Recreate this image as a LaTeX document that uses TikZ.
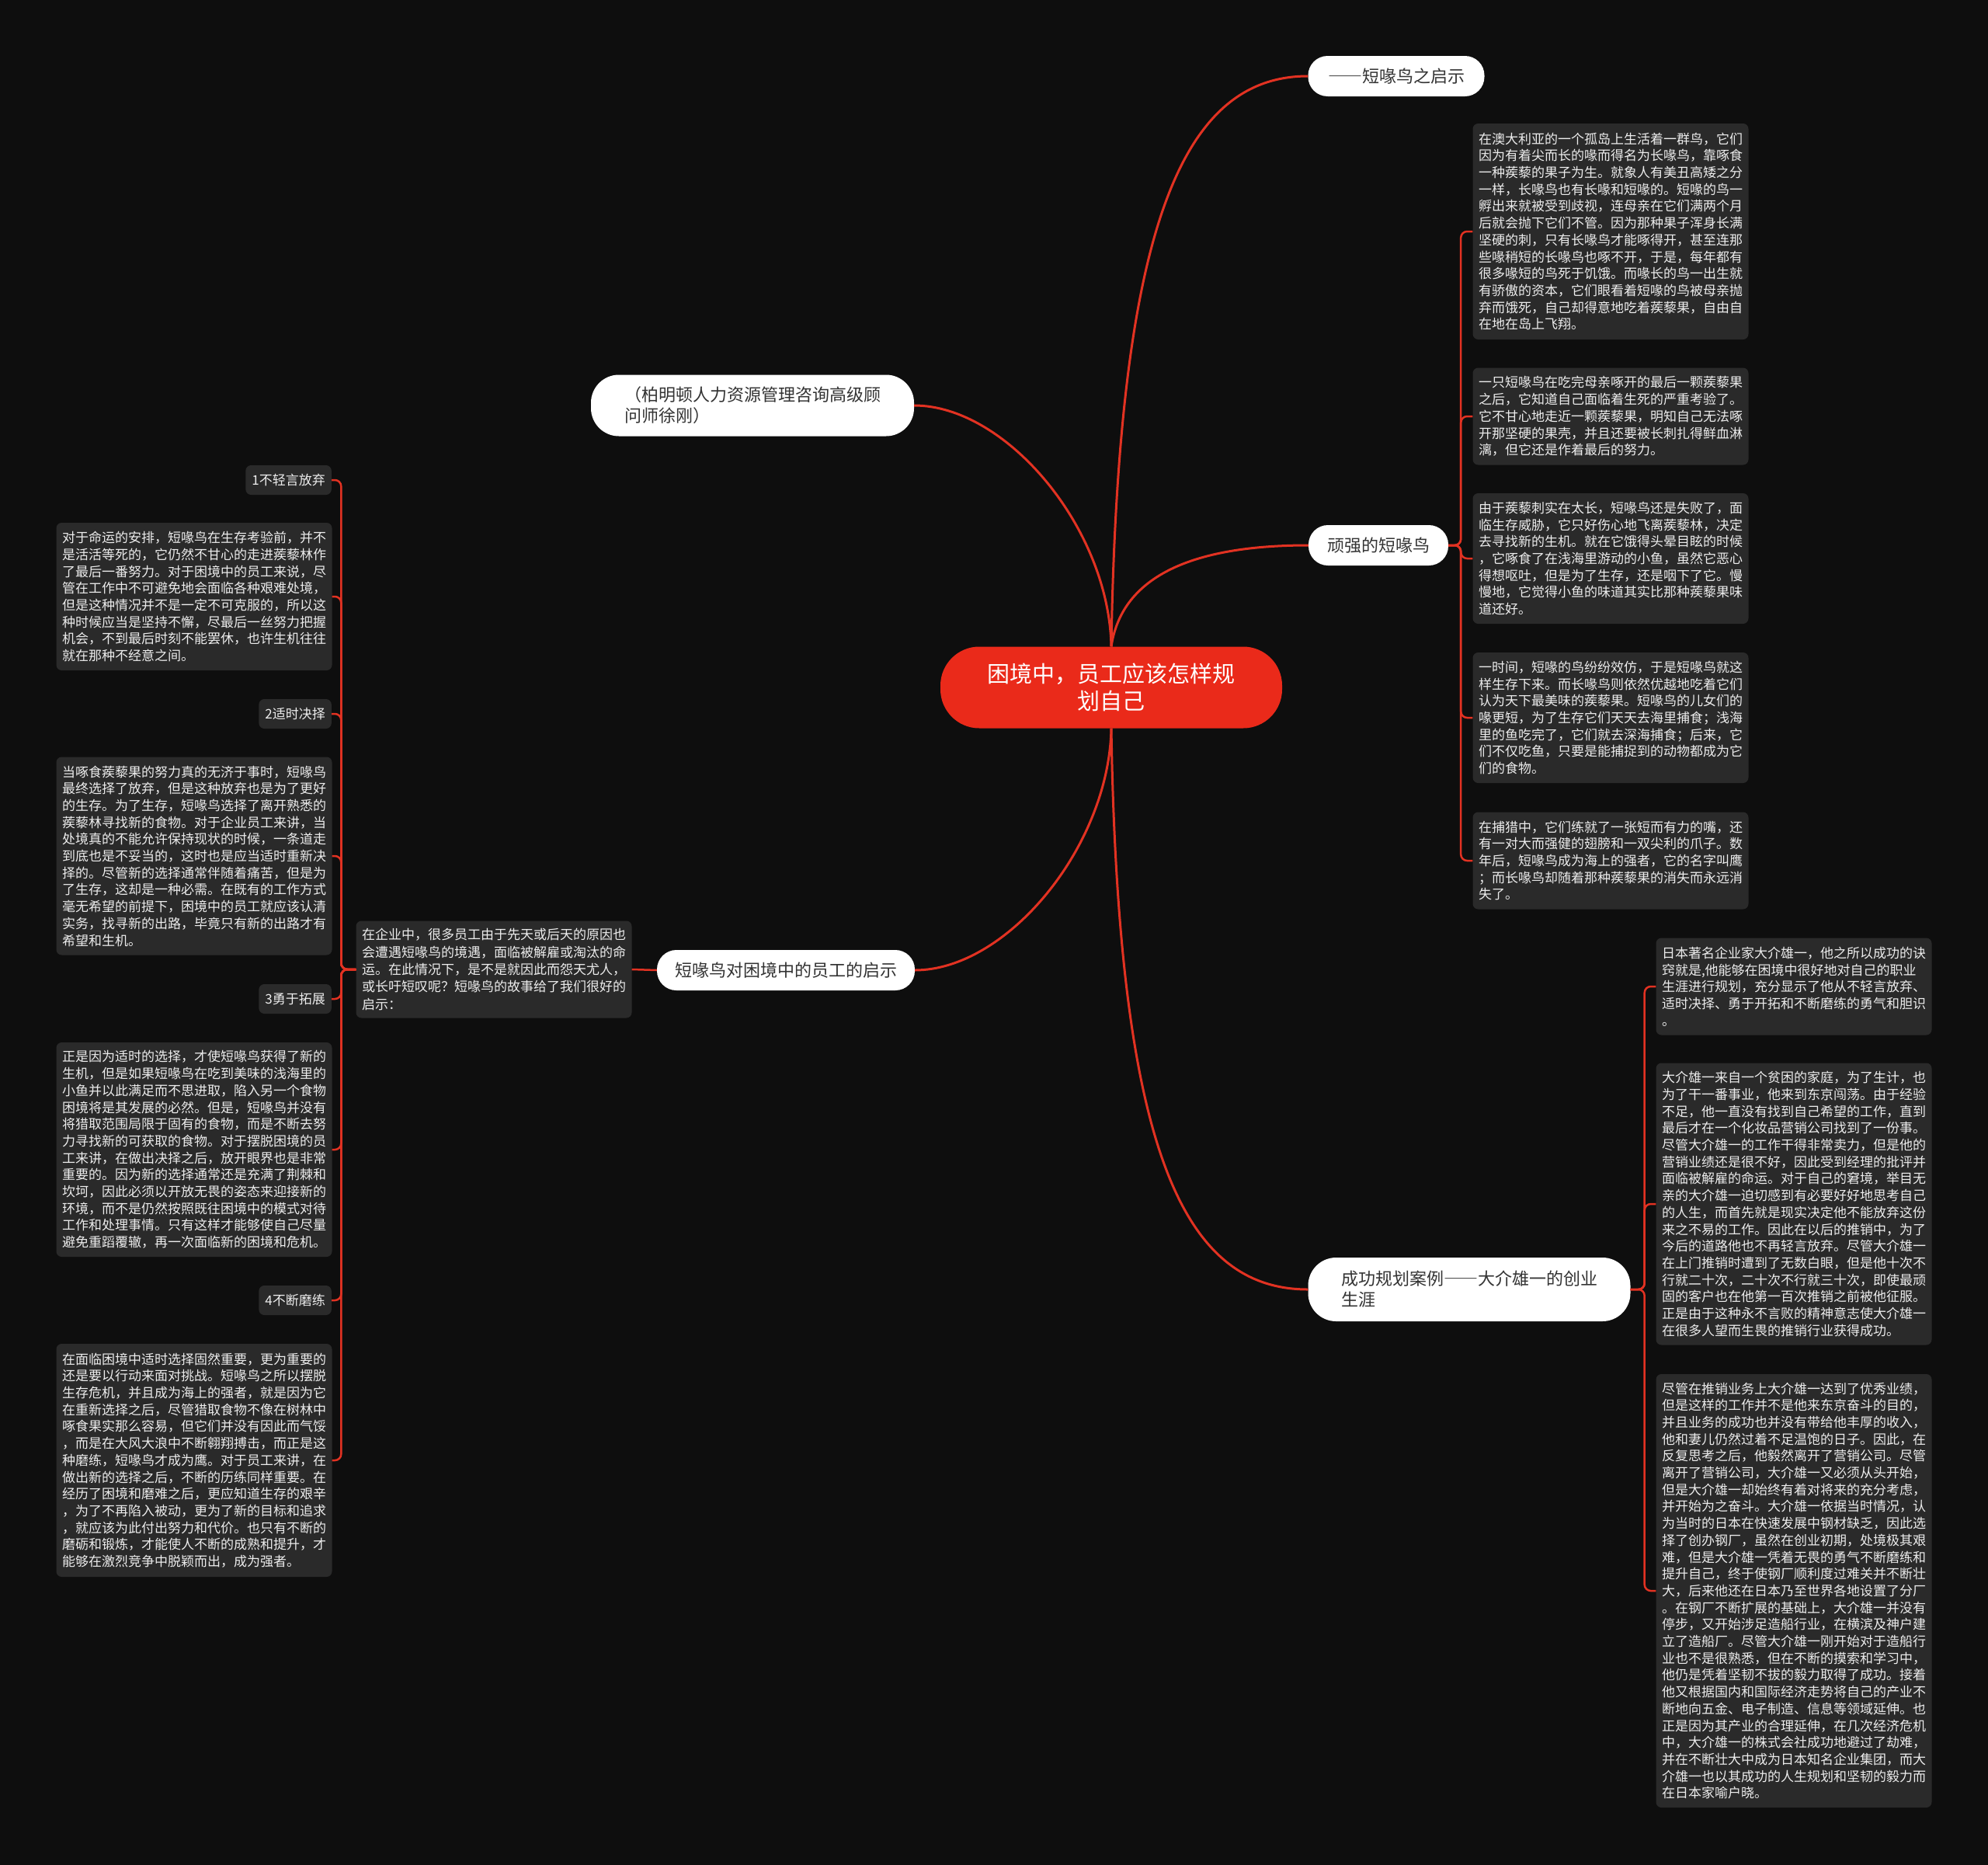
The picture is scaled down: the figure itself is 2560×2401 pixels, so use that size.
\documentclass[tikz,border=0pt]{standalone}
\usepackage{fontspec}
\usepackage{xcolor}
\usepackage{tikz}
\newfontfamily\cjk{Noto Sans CJK SC}
\newcommand\wdash{{\addfontfeatures{RawFeature=+fwid}——}}
\definecolor{bgdark}{RGB}{14,14,14}
\definecolor{boxgrey}{RGB}{42,42,42}
\definecolor{mapred}{RGB}{234,42,26}
\definecolor{linered}{RGB}{226,50,34}
\definecolor{pilltext}{RGB}{51,51,51}

\begin{document}
\begin{tikzpicture}[
    x=1pt, y=-1pt,
    root/.style={rectangle, rounded corners=50pt, fill=mapred, text=white, minimum width=440pt, minimum height=105pt, align=center, font=\cjk\fontsize{29}{35}\selectfont},
    pill/.style={rectangle, rounded corners=25pt, fill=white, text=pilltext, minimum height=52pt, inner xsep=20pt, font=\cjk\fontsize{22}{27}\selectfont},
    blk/.style={rectangle, rounded corners=7pt, fill=boxgrey, text=white!93!black, text width=340pt, minimum width=355pt, inner xsep=7.5pt, inner ysep=9pt, align=left, font=\cjk\fontsize{17}{21.7}\selectfont},
    tag/.style={rectangle, rounded corners=7pt, fill=boxgrey, text=white!93!black, minimum height=38pt, inner xsep=8pt, anchor=east, font=\cjk\fontsize{17}{20}\selectfont},
    link/.style={draw=linered, line width=3pt},
    brk/.style={draw=linered, line width=2.5pt, rounded corners=8pt}
]
  % Background
  \fill[bgdark] (0,0) rectangle (2560,2401);
  \useasboundingbox (0,0) rectangle (2560,2401);

  % Centre and branches
  \node[root] (root) at (1431,885) {困境中，员工应该怎样规\\划自己};
  \node[pill, minimum width=227pt] (tip) at (1798,98) {\wdash 短喙鸟之启示};
  \node[pill, minimum width=416pt, minimum height=79pt, rounded corners=36pt, text width=330pt, align=left] (bm) at (969,522) {（柏明顿人力资源管理咨询高级顾\\问师徐刚）};
  \node[pill, minimum width=180pt] (hw) at (1775,702) {顽强的短喙鸟};
  \node[pill, minimum width=332pt] (dy) at (1012,1249) {短喙鸟对困境中的员工的启示};
  \node[pill, minimum width=415pt, minimum height=82pt, rounded corners=36pt, text width=330pt, align=left] (cg) at (1892,1660) {成功规划案例\wdash 大介雄一的创业\\生涯};

  % Story of the bird
  \node[blk, minimum height=278pt] (bird1) at (2074,298) {在澳大利亚的一个孤岛上生活着一群鸟，它们\\因为有着尖而长的喙而得名为长喙鸟，靠啄食\\一种蒺藜的果子为生。就象人有美丑高矮之分\\一样，长喙鸟也有长喙和短喙的。短喙的鸟一\\孵出来就被受到歧视，连母亲在它们满两个月\\后就会抛下它们不管。因为那种果子浑身长满\\坚硬的刺，只有长喙鸟才能啄得开，甚至连那\\些喙稍短的长喙鸟也啄不开，于是，每年都有\\很多喙短的鸟死于饥饿。而喙长的鸟一出生就\\有骄傲的资本，它们眼看着短喙的鸟被母亲抛\\弃而饿死，自己却得意地吃着蒺藜果，自由自\\在地在岛上飞翔。};
  \node[blk, minimum height=125pt] (bird2) at (2074,536) {一只短喙鸟在吃完母亲啄开的最后一颗蒺藜果\\之后，它知道自己面临着生死的严重考验了。\\它不甘心地走近一颗蒺藜果，明知自己无法啄\\开那坚硬的果壳，并且还要被长刺扎得鲜血淋\\漓，但它还是作着最后的努力。};
  \node[blk, minimum height=168pt] (bird3) at (2074,719) {由于蒺藜刺实在太长，短喙鸟还是失败了，面\\临生存威胁，它只好伤心地飞离蒺藜林，决定\\去寻找新的生机。就在它饿得头晕目眩的时候\\，它啄食了在浅海里游动的小鱼，虽然它恶心\\得想呕吐，但是为了生存，还是咽下了它。慢\\慢地，它觉得小鱼的味道其实比那种蒺藜果味\\道还好。};
  \node[blk, minimum height=168pt] (bird4) at (2074,924) {一时间，短喙的鸟纷纷效仿，于是短喙鸟就这\\样生存下来。而长喙鸟则依然优越地吃着它们\\认为天下最美味的蒺藜果。短喙鸟的儿女们的\\喙更短，为了生存它们天天去海里捕食；浅海\\里的鱼吃完了，它们就去深海捕食；后来，它\\们不仅吃鱼，只要是能捕捉到的动物都成为它\\们的食物。};
  \node[blk, minimum height=125pt] (bird5) at (2074,1108) {在捕猎中，它们练就了一张短而有力的嘴，还\\有一对大而强健的翅膀和一双尖利的爪子。数\\年后，短喙鸟成为海上的强者，它的名字叫鹰\\；而长喙鸟却随着那种蒺藜果的消失而永远消\\失了。};

  % Case of the entrepreneur
  \node[blk, minimum height=125pt] (case1) at (2310,1270) {日本著名企业家大介雄一，他之所以成功的诀\\窍就是,他能够在困境中很好地对自己的职业\\生涯进行规划，充分显示了他从不轻言放弃、\\适时决择、勇于开拓和不断磨练的勇气和胆识\\。};
  \node[blk, minimum height=363pt] (case2) at (2310,1550) {大介雄一来自一个贫困的家庭，为了生计，也\\为了干一番事业，他来到东京闯荡。由于经验\\不足，他一直没有找到自己希望的工作，直到\\最后才在一个化妆品营销公司找到了一份事。\\尽管大介雄一的工作干得非常卖力，但是他的\\营销业绩还是很不好，因此受到经理的批评并\\面临被解雇的命运。对于自己的窘境，举目无\\亲的大介雄一迫切感到有必要好好地思考自己\\的人生，而首先就是现实决定他不能放弃这份\\来之不易的工作。因此在以后的推销中，为了\\今后的道路他也不再轻言放弃。尽管大介雄一\\在上门推销时遭到了无数白眼，但是他十次不\\行就二十次，二十次不行就三十次，即使最顽\\固的客户也在他第一百次推销之前被他征服。\\正是由于这种永不言败的精神意志使大介雄一\\在很多人望而生畏的推销行业获得成功。};
  \node[blk, minimum height=558pt] (case3) at (2310,2048) {尽管在推销业务上大介雄一达到了优秀业绩，\\但是这样的工作并不是他来东京奋斗的目的，\\并且业务的成功也并没有带给他丰厚的收入，\\他和妻儿仍然过着不足温饱的日子。因此，在\\反复思考之后，他毅然离开了营销公司。尽管\\离开了营销公司，大介雄一又必须从头开始，\\但是大介雄一却始终有着对将来的充分考虑，\\并开始为之奋斗。大介雄一依据当时情况，认\\为当时的日本在快速发展中钢材缺乏，因此选\\择了创办钢厂，虽然在创业初期，处境极其艰\\难，但是大介雄一凭着无畏的勇气不断磨练和\\提升自己，终于使钢厂顺利度过难关并不断壮\\大，后来他还在日本乃至世界各地设置了分厂\\。在钢厂不断扩展的基础上，大介雄一并没有\\停步，又开始涉足造船行业，在横滨及神户建\\立了造船厂。尽管大介雄一刚开始对于造船行\\业也不是很熟悉，但在不断的摸索和学习中，\\他仍是凭着坚韧不拔的毅力取得了成功。接着\\他又根据国内和国际经济走势将自己的产业不\\断地向五金、电子制造、信息等领域延伸。也\\正是因为其产业的合理延伸，在几次经济危机\\中，大介雄一的株式会社成功地避过了劫难，\\并在不断壮大中成为日本知名企业集团，而大\\介雄一也以其成功的人生规划和坚韧的毅力而\\在日本家喻户晓。};

  % Lessons for staff
  \node[blk, minimum height=125pt, font=\cjk\fontsize{17}{22.3}\selectfont] (intro) at (636,1248) {在企业中，很多员工由于先天或后天的原因也\\会遭遇短喙鸟的境遇，面临被解雇或淘汰的命\\运。在此情况下，是不是就因此而怨天尤人，\\或长吁短叹呢？短喙鸟的故事给了我们很好的\\启示：};
  \node[tag] (tag1) at (427,618) {1不轻言放弃};
  \node[blk, minimum height=190pt] (para1) at (250,768) {对于命运的安排，短喙鸟在生存考验前，并不\\是活活等死的，它仍然不甘心的走进蒺藜林作\\了最后一番努力。对于困境中的员工来说，尽\\管在工作中不可避免地会面临各种艰难处境，\\但是这种情况并不是一定不可克服的，所以这\\种时候应当是坚持不懈，尽最后一丝努力把握\\机会，不到最后时刻不能罢休，也许生机往往\\就在那种不经意之间。};
  \node[tag] (tag2) at (427,919) {2适时决择};
  \node[blk, minimum height=255pt] (para2) at (250,1102) {当啄食蒺藜果的努力真的无济于事时，短喙鸟\\最终选择了放弃，但是这种放弃也是为了更好\\的生存。为了生存，短喙鸟选择了离开熟悉的\\蒺藜林寻找新的食物。对于企业员工来讲，当\\处境真的不能允许保持现状的时候，一条道走\\到底也是不妥当的，这时也是应当适时重新决\\择的。尽管新的选择通常伴随着痛苦，但是为\\了生存，这却是一种必需。在既有的工作方式\\毫无希望的前提下，困境中的员工就应该认清\\实务，找寻新的出路，毕竟只有新的出路才有\\希望和生机。};
  \node[tag] (tag3) at (427,1286) {3勇于拓展};
  \node[blk, minimum height=276pt] (para3) at (250,1480) {正是因为适时的选择，才使短喙鸟获得了新的\\生机，但是如果短喙鸟在吃到美味的浅海里的\\小鱼并以此满足而不思进取，陷入另一个食物\\困境将是其发展的必然。但是，短喙鸟并没有\\将猎取范围局限于固有的食物，而是不断去努\\力寻找新的可获取的食物。对于摆脱困境的员\\工来讲，在做出决择之后，放开眼界也是非常\\重要的。因为新的选择通常还是充满了荆棘和\\坎坷，因此必须以开放无畏的姿态来迎接新的\\环境，而不是仍然按照既往困境中的模式对待\\工作和处理事情。只有这样才能够使自己尽量\\避免重蹈覆辙，再一次面临新的困境和危机。};
  \node[tag] (tag4) at (427,1674) {4不断磨练};
  \node[blk, minimum height=300pt] (para4) at (250,1880) {在面临困境中适时选择固然重要，更为重要的\\还是要以行动来面对挑战。短喙鸟之所以摆脱\\生存危机，并且成为海上的强者，就是因为它\\在重新选择之后，尽管猎取食物不像在树林中\\啄食果实那么容易，但它们并没有因此而气馁\\，而是在大风大浪中不断翱翔搏击，而正是这\\种磨练，短喙鸟才成为鹰。对于员工来讲，在\\做出新的选择之后，不断的历练同样重要。在\\经历了困境和磨难之后，更应知道生存的艰辛\\，为了不再陷入被动，更为了新的目标和追求\\，就应该为此付出努力和代价。也只有不断的\\磨砺和锻炼，才能使人不断的成熟和提升，才\\能够在激烈竞争中脱颖而出，成为强者。};

  % Curves from the centre
  \draw[link] (root.north) .. controls +(9,-533) and +(-165,0) .. (tip.west);
  \draw[link] (root.north) .. controls +(-3,-153) and +(118,0) .. (bm.east);
  \draw[link] (root.north) .. controls +(14,-93) and +(-145,0) .. (hw.west);
  \draw[link] (root.south) .. controls +(-3,153) and +(118,0) .. (dy.east);
  \draw[link] (root.south) .. controls +(9,533) and +(-165,0) .. (cg.west);

  % Brackets to the leaves
  \draw[brk] (dy.west) -- (intro.east);
  \foreach \c in {bird1,bird2,bird3,bird4,bird5}
    \draw[brk] (hw.east) -- ++(16,0) |- (\c.west);
  \foreach \c in {case1,case2,case3}
    \draw[brk] (cg.east) -- ++(18,0) |- (\c.west);
  \foreach \c in {tag1,para1,tag2,para2,tag3,para3,tag4,para4}
    \draw[brk] (intro.west) -- ++(-19,0) |- (\c.east);
\end{tikzpicture}
\end{document}
